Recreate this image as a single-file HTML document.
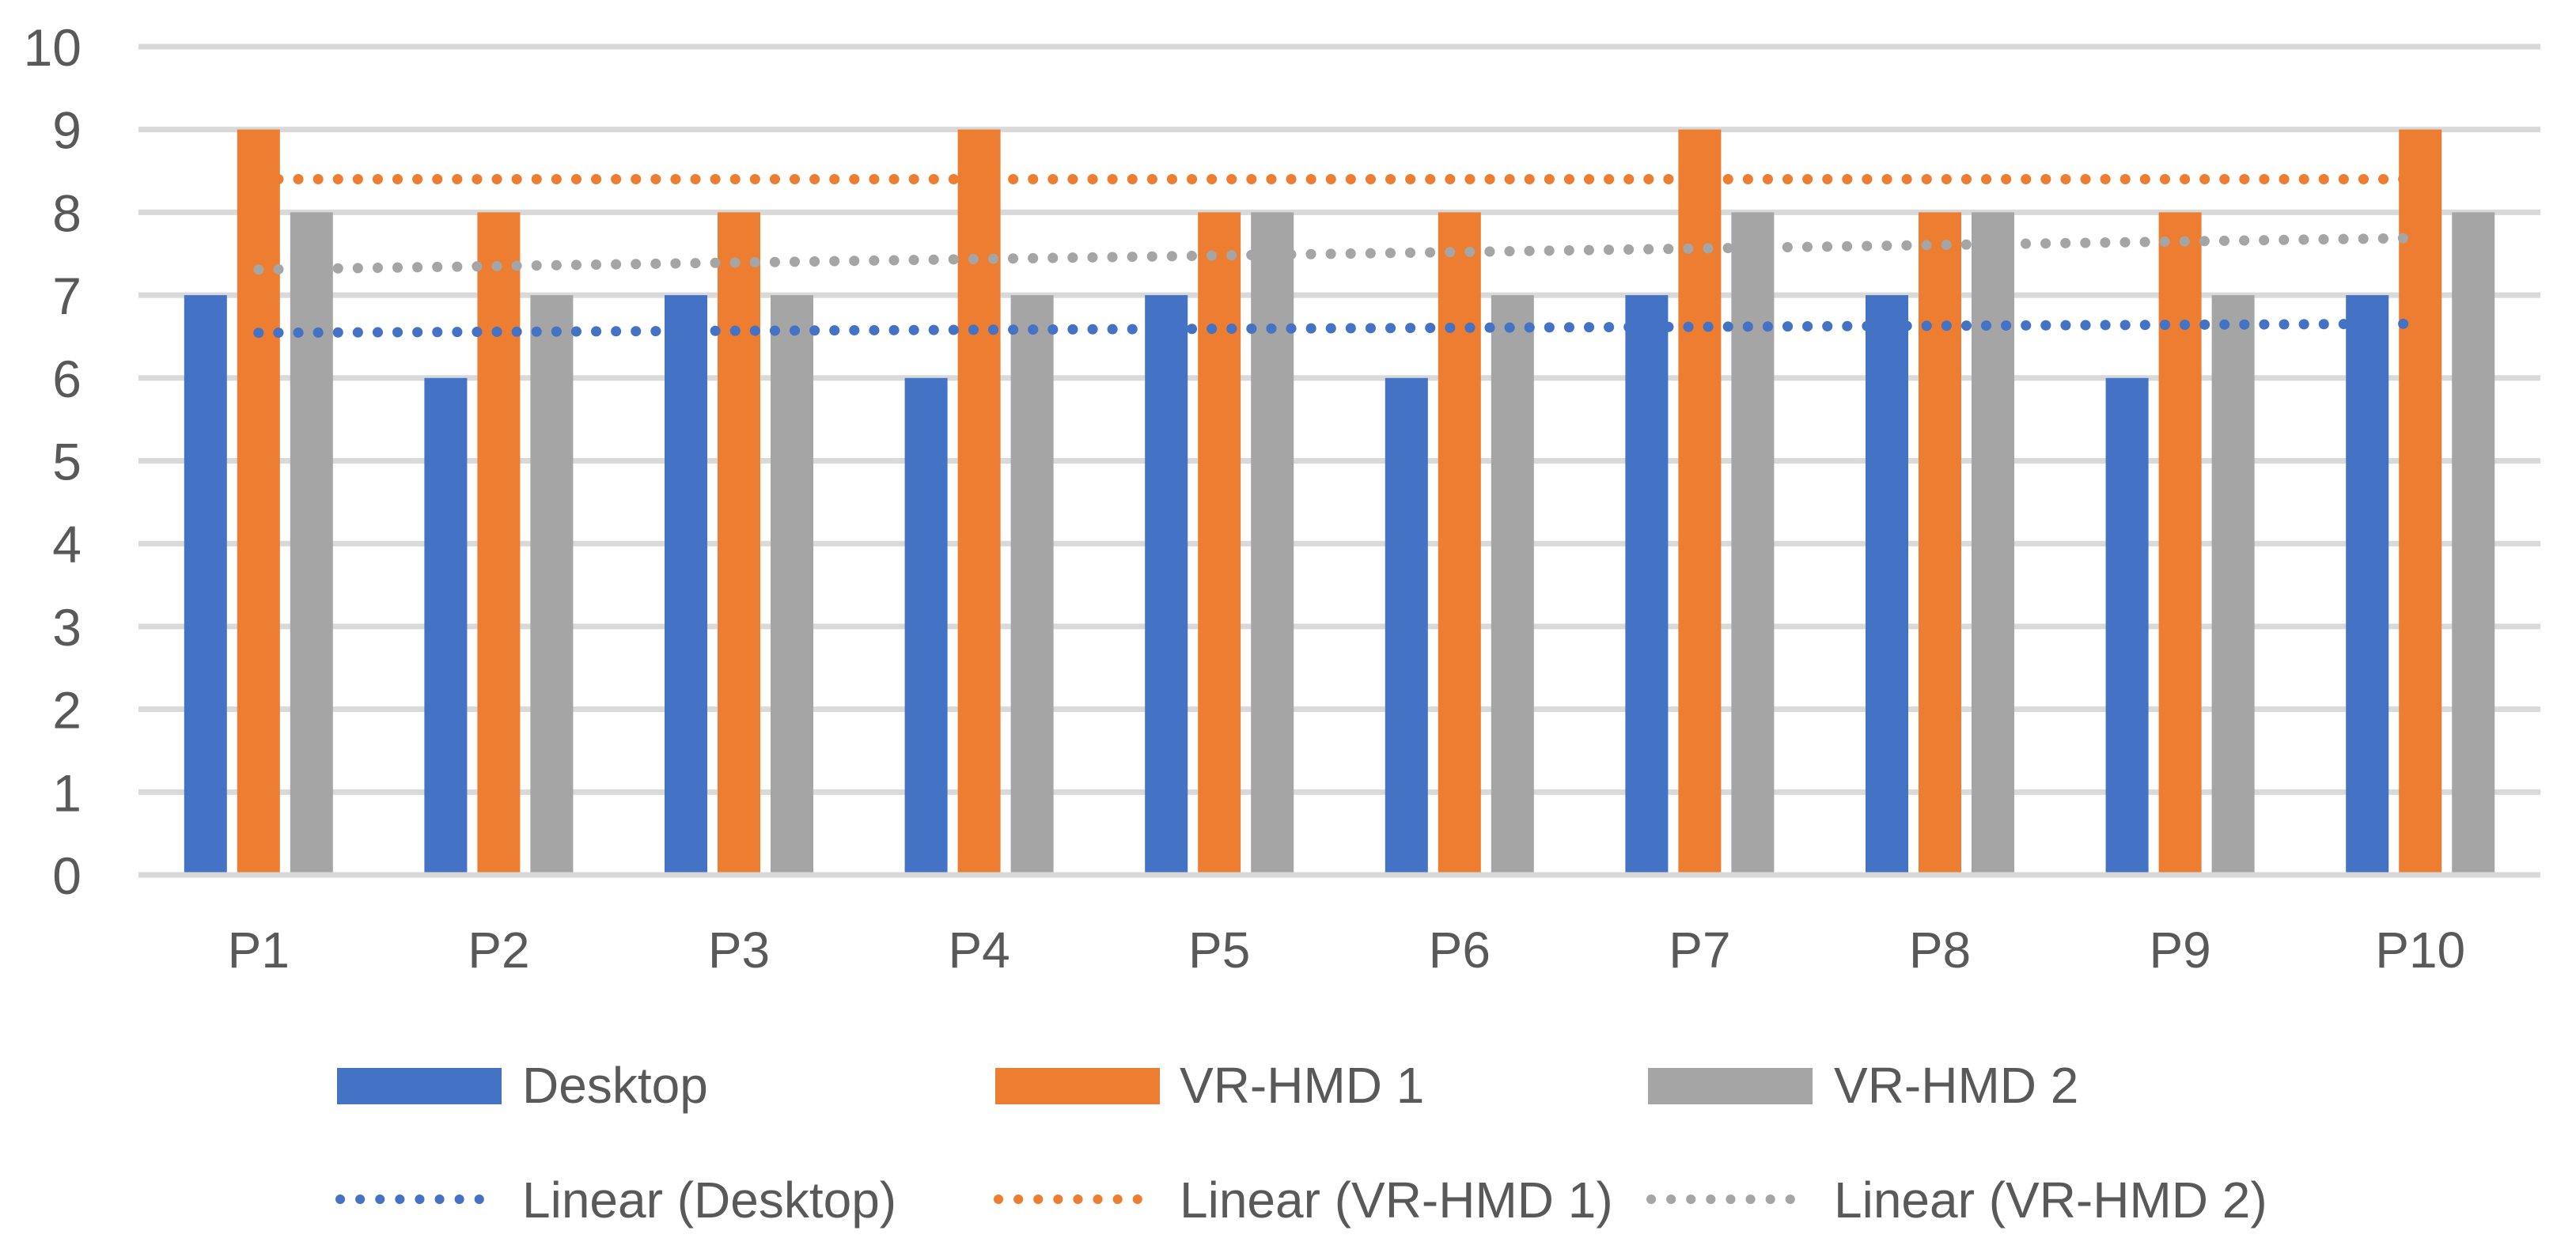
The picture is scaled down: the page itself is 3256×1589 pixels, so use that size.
<!DOCTYPE html>
<html><head><meta charset="utf-8">
<style>html,body{margin:0;padding:0;background:#fff;}svg{display:block;}text{font-family:"Liberation Sans",sans-serif;fill:#595959;}</style>
</head><body>
<svg id="chart" width="3256" height="1589" viewBox="0 0 3256 1589" xmlns="http://www.w3.org/2000/svg"></svg>
<script>
const categories = ["P1","P2","P3","P4","P5","P6","P7","P8","P9","P10"];
const desktop = [7,6,7,6,7,6,7,7,6,7];
const vr1 = [9,8,8,9,8,8,9,8,8,9];
const vr2 = [8,7,7,7,8,7,8,8,7,8];
const yTicks = [0,1,2,3,4,5,6,7,8,9,10];
const seriesNames = ["Desktop","VR-HMD 1","VR-HMD 2"];
const trendNames = ["Linear (Desktop)","Linear (VR-HMD 1)","Linear (VR-HMD 2)"];

const svg = document.getElementById('chart');
const NS = 'http://www.w3.org/2000/svg';
const colors = ['#4472c4','#ed7d31','#a5a5a5'];
const X0 = 175, X1 = 3211, Y0 = 1106, Y10 = 59;
const bandW = (X1 - X0) / categories.length;
function y(v){ return Y0 - (Y0 - Y10) * v / 10; }
function xc(i){ return X0 + bandW * (i + 0.5); }
function mk(tag, attrs, parent){
  const e = document.createElementNS(NS, tag);
  for (const k in attrs) e.setAttribute(k, attrs[k]);
  (parent || svg).appendChild(e);
  return e;
}
// gridlines + ticks
yTicks.forEach(t => {
  const g = mk('rect', {x:X0, y:y(t)-3.5, width:X1-X0, height:7, fill:'#d9d9d9'});
  
  
  const tx = mk('text', {x:103, y:y(t)+24, 'text-anchor':'end', 'font-size':66});
  tx.textContent = t;
  
  
});
// bars
const series = [desktop, vr1, vr2];
const bw = 54, step = 67;
series.forEach((s, si) => {
  s.forEach((v, i) => {
    const cx = xc(i) + (si - 1) * step;
    const r = mk('rect', {x:cx - bw/2, y:y(v), width:bw, height:y(0)-y(v)-3.5, fill:colors[si]});
    
    
  });
});
// category labels
categories.forEach((c, i) => {
  const t = mk('text', {x:xc(i), y:1223, 'text-anchor':'middle', 'font-size':64});
  t.textContent = c;
  
  
});
// trendlines (least squares)
function fit(s){
  const n = s.length; let sx=0, sy=0, sxy=0, sxx=0;
  s.forEach((v,i)=>{const xi=i+1; sx+=xi; sy+=v; sxy+=xi*v; sxx+=xi*xi;});
  const b = (n*sxy - sx*sy)/(n*sxx - sx*sx); const a = (sy - b*sx)/n;
  return [a+b, a+b*n];
}
series.forEach((s, si) => {
  const [v1, v2] = fit(s);
  const l = mk('line', {x1:xc(0), y1:y(v1), x2:xc(categories.length-1), y2:y(v2), stroke:colors[si], 'stroke-width':13, 'stroke-linecap':'round', 'stroke-dasharray':'0.1 25'});
  
  
});
// legend
const legX = [426, 1258, 2083];
const textX = [660, 1491, 2318];
seriesNames.forEach((n, i) => {
  const r = mk('rect', {x:legX[i], y:1350, width:208, height:46, fill:colors[i]});
  
  
  const t = mk('text', {x:textX[i], y:1394, 'font-size':64});
  t.textContent = n;
  
  
  const l = mk('line', {x1:legX[i]+4, y1:1516, x2:legX[i]+204, y2:1516, stroke:colors[i], 'stroke-width':12, 'stroke-linecap':'round', 'stroke-dasharray':'0.1 25'});
  
  
  const t2 = mk('text', {x:textX[i], y:1539, 'font-size':64});
  t2.textContent = trendNames[i];
  
  
});
</script>
</body></html>
